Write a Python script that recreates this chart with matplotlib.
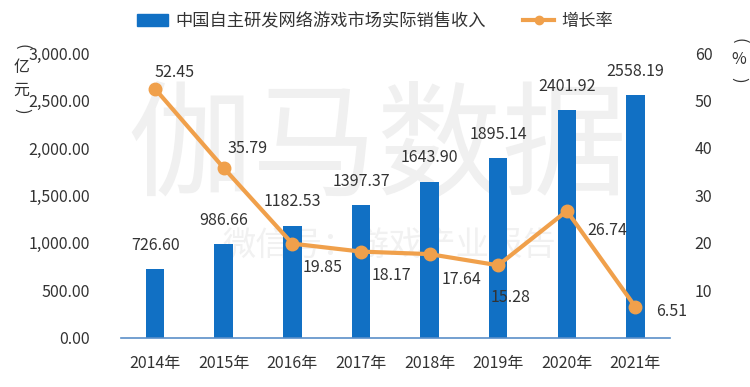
import matplotlib
matplotlib.use('Agg')
import matplotlib.pyplot as plt
from matplotlib.patches import Patch
from matplotlib.lines import Line2D

plt.rcParams['font.family'] = ['Noto Sans CJK SC', 'DejaVu Sans']

years = ['2014年', '2015年', '2016年', '2017年', '2018年', '2019年', '2020年', '2021年']
revenue = [726.60, 986.66, 1182.53, 1397.37, 1643.90, 1895.14, 2401.92, 2558.19]
growth = [52.45, 35.79, 19.85, 18.17, 17.64, 15.28, 26.74, 6.51]

bar_c = '#1170c4'
line_c = '#f0a04b'
txt_c = '#333333'

fig = plt.figure(figsize=(7.5, 3.87), dpi=100)
ax = fig.add_axes([0.161, 0.127, 0.732, 0.736])
ax2 = ax.twinx()
ax.set_zorder(ax2.get_zorder() - 1)
ax2.patch.set_visible(False)

x = list(range(len(years)))

# watermark, behind everything
ax.text(0.468, 0.66, '伽马数据', transform=ax.transAxes, fontsize=90, color='#f0f0f0',
        ha='center', va='center', zorder=0.5)
ax.text(0.49, 0.326, '微信号：游戏产业报告', transform=ax.transAxes, fontsize=24, color='#f1f1f1',
        ha='center', va='center', zorder=0.5)

ax.bar(x, revenue, width=0.27, color=bar_c, zorder=2)
for xi, v in zip(x, revenue):
    ax.annotate('%.2f' % v, (xi, v), xytext=(0, 11), textcoords='offset points',
                ha='center', va='bottom', fontsize=11.5, color=txt_c, zorder=3)

ax.set_xlim(-0.5, 7.5)
ax.set_ylim(0, 3000)
ax.set_yticks(range(0, 3001, 500))
ax.set_yticklabels(['{:,.2f}'.format(t) for t in range(0, 3001, 500)])
ax.set_xticks(x)
ax.set_xticklabels(years)
ax.tick_params(axis='both', length=0, labelsize=11.5, colors=txt_c)
ax.tick_params(axis='x', pad=12)
ax.tick_params(axis='y', pad=22)
for s in ['top', 'left', 'right']:
    ax.spines[s].set_visible(False)
ax.spines['bottom'].set_color('#5b8fc8')
ax.spines['bottom'].set_linewidth(1.2)

ax2.plot(x, growth, color=line_c, linewidth=3, marker='o', markersize=9,
         markerfacecolor=line_c, markeredgecolor=line_c, zorder=3)
offs = [(14, 12), (17, 14), (22, -17), (22, -17), (23, -18), (9, -23), (29, -14), (26, -3)]
for xi, v, o in zip(x, growth, offs):
    ax2.annotate('%.2f' % v, (xi, v), xytext=o, textcoords='offset points',
                 ha='center', va='center', fontsize=11.5, color=txt_c)
ax2.set_ylim(0, 60)
ax2.set_yticks(range(10, 61, 10))
ax2.tick_params(axis='y', length=0, labelsize=11.5, colors=txt_c, pad=18)
for s in ['top', 'left', 'right', 'bottom']:
    ax2.spines[s].set_visible(False)

# vertical axis titles: upright characters, brackets turned sideways
fig.text(0.029, 0.880, '(', fontsize=12, color=txt_c, ha='center', va='center', rotation=-90)
fig.text(0.029, 0.825, '亿', fontsize=11.5, color=txt_c, ha='center', va='center')
fig.text(0.029, 0.768, '元', fontsize=11.5, color=txt_c, ha='center', va='center')
fig.text(0.029, 0.713, ')', fontsize=12, color=txt_c, ha='center', va='center', rotation=-90)
fig.text(0.985, 0.895, '(', fontsize=12, color=txt_c, ha='center', va='center', rotation=-90)
fig.text(0.985, 0.845, '%', fontsize=11.5, color=txt_c, ha='center', va='center')
fig.text(0.985, 0.793, ')', fontsize=12, color=txt_c, ha='center', va='center', rotation=-90)

handles = [Patch(color=bar_c), Line2D([0], [0], color=line_c, linewidth=3, marker='o', markersize=6)]
fig.legend(handles, ['中国自主研发网络游戏市场实际销售收入', '增长率'], loc='center',
           bbox_to_anchor=(0.50, 0.945), ncol=2, frameon=False, fontsize=12.4,
           columnspacing=2.2, handlelength=1.8, handletextpad=0.4, labelcolor=txt_c)

fig.savefig('out.png', dpi=100)
